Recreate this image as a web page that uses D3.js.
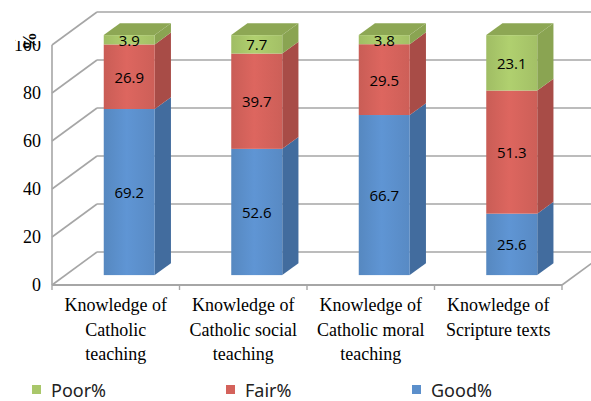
<!DOCTYPE html>
<html lang="en">
  <head>
    <meta charset="UTF-8" />
    <title>Knowledge levels</title>
    <script src="https://d3js.org/d3.v7.min.js"></script>
    <style>
      body {
        margin: 0;
        background: #fff;
      }
      svg {
        display: block;
      }
      .tick-label {
        font-family: "Liberation Serif", "Times New Roman", serif;
        font-size: 18px;
        fill: #000;
      }
      .val {
        font-family: "Open Sans", "Noto Sans", sans-serif;
        font-size: 15px;
        fill: #000;
      }
      .legend text {
        font-family: "Noto Sans", "Open Sans", sans-serif;
        font-size: 18px;
        fill: #222;
      }
    </style>
  </head>
  <body>
    <svg width="591" height="401"></svg>
    <script>
      const categories = [
        ["Knowledge of", "Catholic", "teaching"],
        ["Knowledge of", "Catholic social", "teaching"],
        ["Knowledge of", "Catholic moral", "teaching"],
        ["Knowledge of", "Scripture texts"]
      ];
      const good = [69.2, 52.6, 66.7, 25.6];
      const fair = [26.9, 39.7, 29.5, 51.3];
      const poor = [3.9, 7.7, 3.8, 23.1];
      const yTicks = [0, 20, 40, 60, 80, 100];

      const series = [
        { id: "good", name: "Good%", values: good, front: "#5b8fcb", side: "#426c9e", top: "#6f9fd6" },
        { id: "fair", name: "Fair%", values: fair, front: "#d4625b", side: "#a84c47", top: "#dc7a73" },
        { id: "poor", name: "Poor%", values: poor, front: "#a9c76a", side: "#8aa452", top: "#8da754" }
      ];

      const svg = d3.select("svg");
      const depthX = 45, depthY = -33;
      const off = (f) => [depthX * f, depthY * f];

      const x = d3.scaleBand().domain(d3.range(categories.length)).range([52, 562]);
      const y = d3.scaleLinear().domain([0, 100]).range([285, 45]);

      const grid = "#a6a6a6";

      // slight shine on bar fronts
      const defs = svg.append("defs");
      series.forEach((s) => {
        const lg = defs.append("linearGradient").attr("id", "g-" + s.id)
          .attr("x1", "0").attr("x2", "1").attr("y1", "0").attr("y2", "0");
        lg.append("stop").attr("offset", "0%").attr("stop-color", d3.color(s.front).darker(0.15));
        lg.append("stop").attr("offset", "45%").attr("stop-color", d3.color(s.front).brighter(0.12));
        lg.append("stop").attr("offset", "100%").attr("stop-color", d3.color(s.front).darker(0.1));
      });

      // back wall and left wall gridlines
      yTicks.forEach((t) => {
        svg.append("line")
          .attr("x1", 52 + depthX).attr("x2", 562 + depthX)
          .attr("y1", y(t) + depthY).attr("y2", y(t) + depthY)
          .attr("stroke", grid).attr("stroke-width", 1.6);
        svg.append("line")
          .attr("x1", 52).attr("x2", 52 + depthX)
          .attr("y1", y(t)).attr("y2", y(t) + depthY)
          .attr("stroke", grid).attr("stroke-width", 1.6);
      });

      // front axis line and floor
      svg.append("line")
        .attr("x1", 52).attr("x2", 52).attr("y1", y(100)).attr("y2", y(0))
        .attr("stroke", grid).attr("stroke-width", 1.6);
      svg.append("line")
        .attr("x1", 52).attr("x2", 562).attr("y1", y(0)).attr("y2", y(0))
        .attr("stroke", grid).attr("stroke-width", 2);
      svg.append("line")
        .attr("x1", 562).attr("x2", 562 + depthX).attr("y1", y(0)).attr("y2", y(0) + depthY)
        .attr("stroke", grid).attr("stroke-width", 1.6);
      d3.range(categories.length + 1).forEach((i) => {
        const xx = 52 + i * x.bandwidth();
        svg.append("line")
          .attr("x1", xx).attr("x2", xx).attr("y1", y(0)).attr("y2", y(0) + 5)
          .attr("stroke", grid).attr("stroke-width", 1.4);
      });

      // bars
      const f0 = 0.3, f1 = 0.66;
      const [ox0, oy0] = off(f0);
      const [ox1, oy1] = off(f1);
      const bw = x.bandwidth() * 0.4;

      categories.forEach((c, i) => {
        const xl = x(i) + (x.bandwidth() - bw) / 2 + ox0;
        const xr = xl + bw;
        let base = 0;
        series.forEach((s, si) => {
          const v = s.values[i];
          const yb = y(base) + oy0;
          const yt = y(base + v) + oy0;
          const g = svg.append("g");
          // side face
          g.append("polygon")
            .attr("points", [
              [xr, yb], [xr + ox1 - ox0, yb + oy1 - oy0],
              [xr + ox1 - ox0, yt + oy1 - oy0], [xr, yt]
            ].join(" "))
            .attr("fill", s.side);
          // front face
          g.append("rect")
            .attr("x", xl).attr("y", yt).attr("width", bw).attr("height", yb - yt)
            .attr("fill", "url(#g-" + s.id + ")");
          if (si === series.length - 1) {
            g.append("polygon")
              .attr("points", [
                [xl, yt], [xr, yt], [xr + ox1 - ox0, yt + oy1 - oy0],
                [xl + ox1 - ox0, yt + oy1 - oy0]
              ].join(" "))
              .attr("fill", s.top);
          }
          g.append("text")
            .attr("class", "val")
            .attr("x", (xl + xr) / 2)
            .attr("y", (yb + yt) / 2)
            .attr("text-anchor", "middle")
            .attr("dominant-baseline", "central")
            .text(v.toFixed(1));
          base += v;
        });
      });

      // y tick labels
      yTicks.forEach((t) => {
        svg.append("text")
          .attr("class", "tick-label")
          .attr("x", 41).attr("y", y(t))
          .attr("text-anchor", "end")
          .attr("dominant-baseline", "central")
          .text(t);
      });
      svg.append("rect").attr("x", 16).attr("y", 30).attr("width", 26).attr("height", 11).attr("fill", "#fff");
      svg.append("text")
        .attr("class", "tick-label")
        .attr("transform", "translate(30,41) rotate(-90)")
        .attr("text-anchor", "middle")
        .attr("dominant-baseline", "central")
        .style("font-weight", "bold")
        .text("%");

      // category labels
      categories.forEach((lines, i) => {
        const t = svg.append("text")
          .attr("class", "tick-label")
          .attr("text-anchor", "middle");
        lines.forEach((l, li) => {
          t.append("tspan")
            .attr("x", x(i) + x.bandwidth() / 2)
            .attr("y", 311 + li * 24.5)
            .text(l);
        });
      });

      // legend
      const legendItems = [series[2], series[1], series[0]];
      const legendX = [32, 226, 412];
      const legend = svg.append("g").attr("class", "legend");
      legendItems.forEach((s, i) => {
        legend.append("rect")
          .attr("x", legendX[i]).attr("y", 385).attr("width", 9).attr("height", 9)
          .attr("fill", s.front);
        legend.append("text")
          .attr("x", legendX[i] + 19).attr("y", 397)
          .text(s.name);
      });
    </script>
  </body>
</html>
